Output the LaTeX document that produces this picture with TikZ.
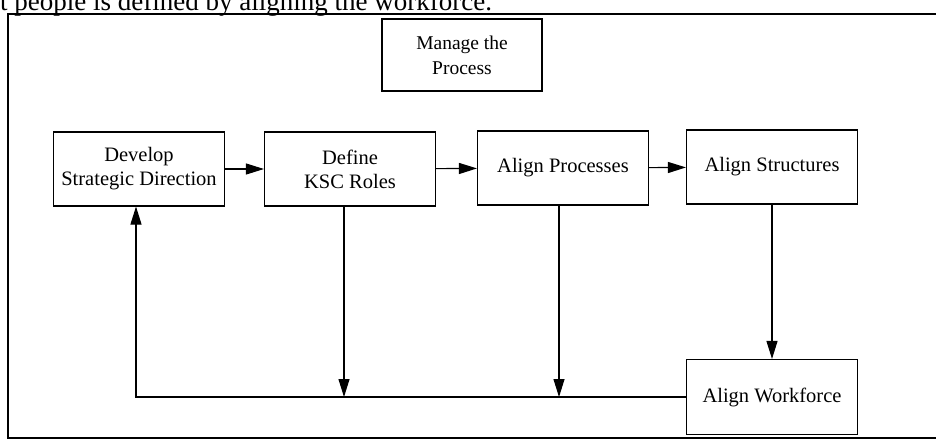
\documentclass[tikz,border=0pt]{standalone}
\usepackage{fontspec}
\setmainfont{Liberation Serif}
\usetikzlibrary{arrows.meta}
\begin{document}
\begin{tikzpicture}[
        x=1pt, y=-1pt,
        stage/.style={draw, line width=1.1pt, align=center, inner sep=0pt,
            minimum width=#1, minimum height=74pt,
            font=\fontsize{20.5}{24}\selectfont},
        stage/.default=171pt,
        flow/.style={line width=1.1pt, -{Triangle[length=18pt,width=11pt]}}
    ]
        \useasboundingbox (0, 0) rectangle (936, 439);
        \node[anchor=base west, inner sep=0pt, font=\fontsize{27}{30}\selectfont]
            (intro) at (0, 10) {t people is defined by aligning the workforce.};
        \draw[line width=1.1pt] (8, 14) rectangle (950, 438);
        \node[stage=160pt, minimum height=72pt, font=\fontsize{19.5}{25}\selectfont]
            (manage) at (462, 55) {Manage the\\Process};
        \node[stage] (develop) at (139, 169) {Develop\\Strategic Direction};
        \node[stage] (define) at (350, 169) {Define\\KSC Roles};
        \node[stage] (procs) at (563, 168) {Align Processes};
        \node[stage] (structs) at (772, 167) {Align Structures};
        \node[stage, minimum height=75pt] (workforce) at (772, 397) {Align Workforce};
        \draw[flow] (develop) -- (define);
        \draw[flow] (define) -- (procs);
        \draw[flow] (procs) -- (structs);
        \draw[flow] (structs) -- (workforce);
        \draw[flow] ([xshift=-6pt]define.south) -- ([xshift=-6pt]define.south |- workforce.west);
        \draw[flow] ([xshift=-4pt]procs.south) -- ([xshift=-4pt]procs.south |- workforce.west);
        \draw[flow] (workforce.west) -| ([xshift=-3pt]develop.south);
    \end{tikzpicture}
\end{document}
